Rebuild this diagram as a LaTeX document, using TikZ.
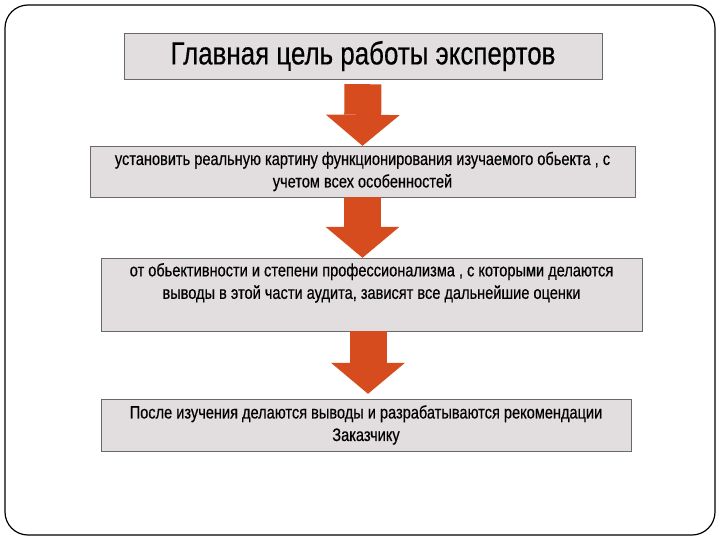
\documentclass[tikz,border=0pt]{standalone}
\usepackage{fontspec}
\setmainfont{Liberation Sans}[FakeStretch=0.81, FakeBold=0.4]
\usetikzlibrary{arrows.meta,positioning}
\definecolor{boxfill}{RGB}{226,221,222}
\definecolor{boxline}{RGB}{105,105,105}
\definecolor{arrowred}{RGB}{214,76,30}

\begin{document}
\begin{tikzpicture}[x=1pt, y=-1pt]
\tikzstyle{block} = [rectangle, draw=boxline, fill=boxfill, align=center, inner sep=0pt, font=\fontsize{18}{22.5}\selectfont]
\tikzstyle{flow} = [draw=arrowred, line width=37pt, -{Triangle[width=74pt,length=31pt,line width=0pt]}]

\useasboundingbox (0,0) rectangle (720,540);
\draw[line width=1.2pt, rounded corners=23pt] (5,5) rectangle (715,535);

\node[block, minimum width=478pt, minimum height=46pt, font=\fontsize{32}{36}\selectfont] (title) at (363,56) {Главная цель работы экспертов};
\node[block, minimum width=545pt, minimum height=51pt] (goal) at (362.5,171.5) {установить реальную картину функционирования изучаемого обьекта , с\\учетом всех особенностей};
\node[block, minimum width=541pt, minimum height=73pt, text depth=27pt] (basis) at (371.5,294.5) {от обьективности и степени профессионализма , с которыми делаются\\выводы в этой части аудита, зависят все дальнейшие оценки};
\node[block, minimum width=530pt, minimum height=52pt] (result) at (366,425) {После изучения делаются выводы и разрабатываются рекомендации\\Заказчику};

\draw[flow, shorten <=5pt] (title.south) -- (goal.north);
\draw[flow] (goal.south) -- (goal.south |- basis.north);
\draw[flow, shorten >=5pt] ([xshift=-3.5pt]basis.south) -- ([xshift=-3.5pt]basis.south |- result.north);
\end{tikzpicture}
\end{document}
